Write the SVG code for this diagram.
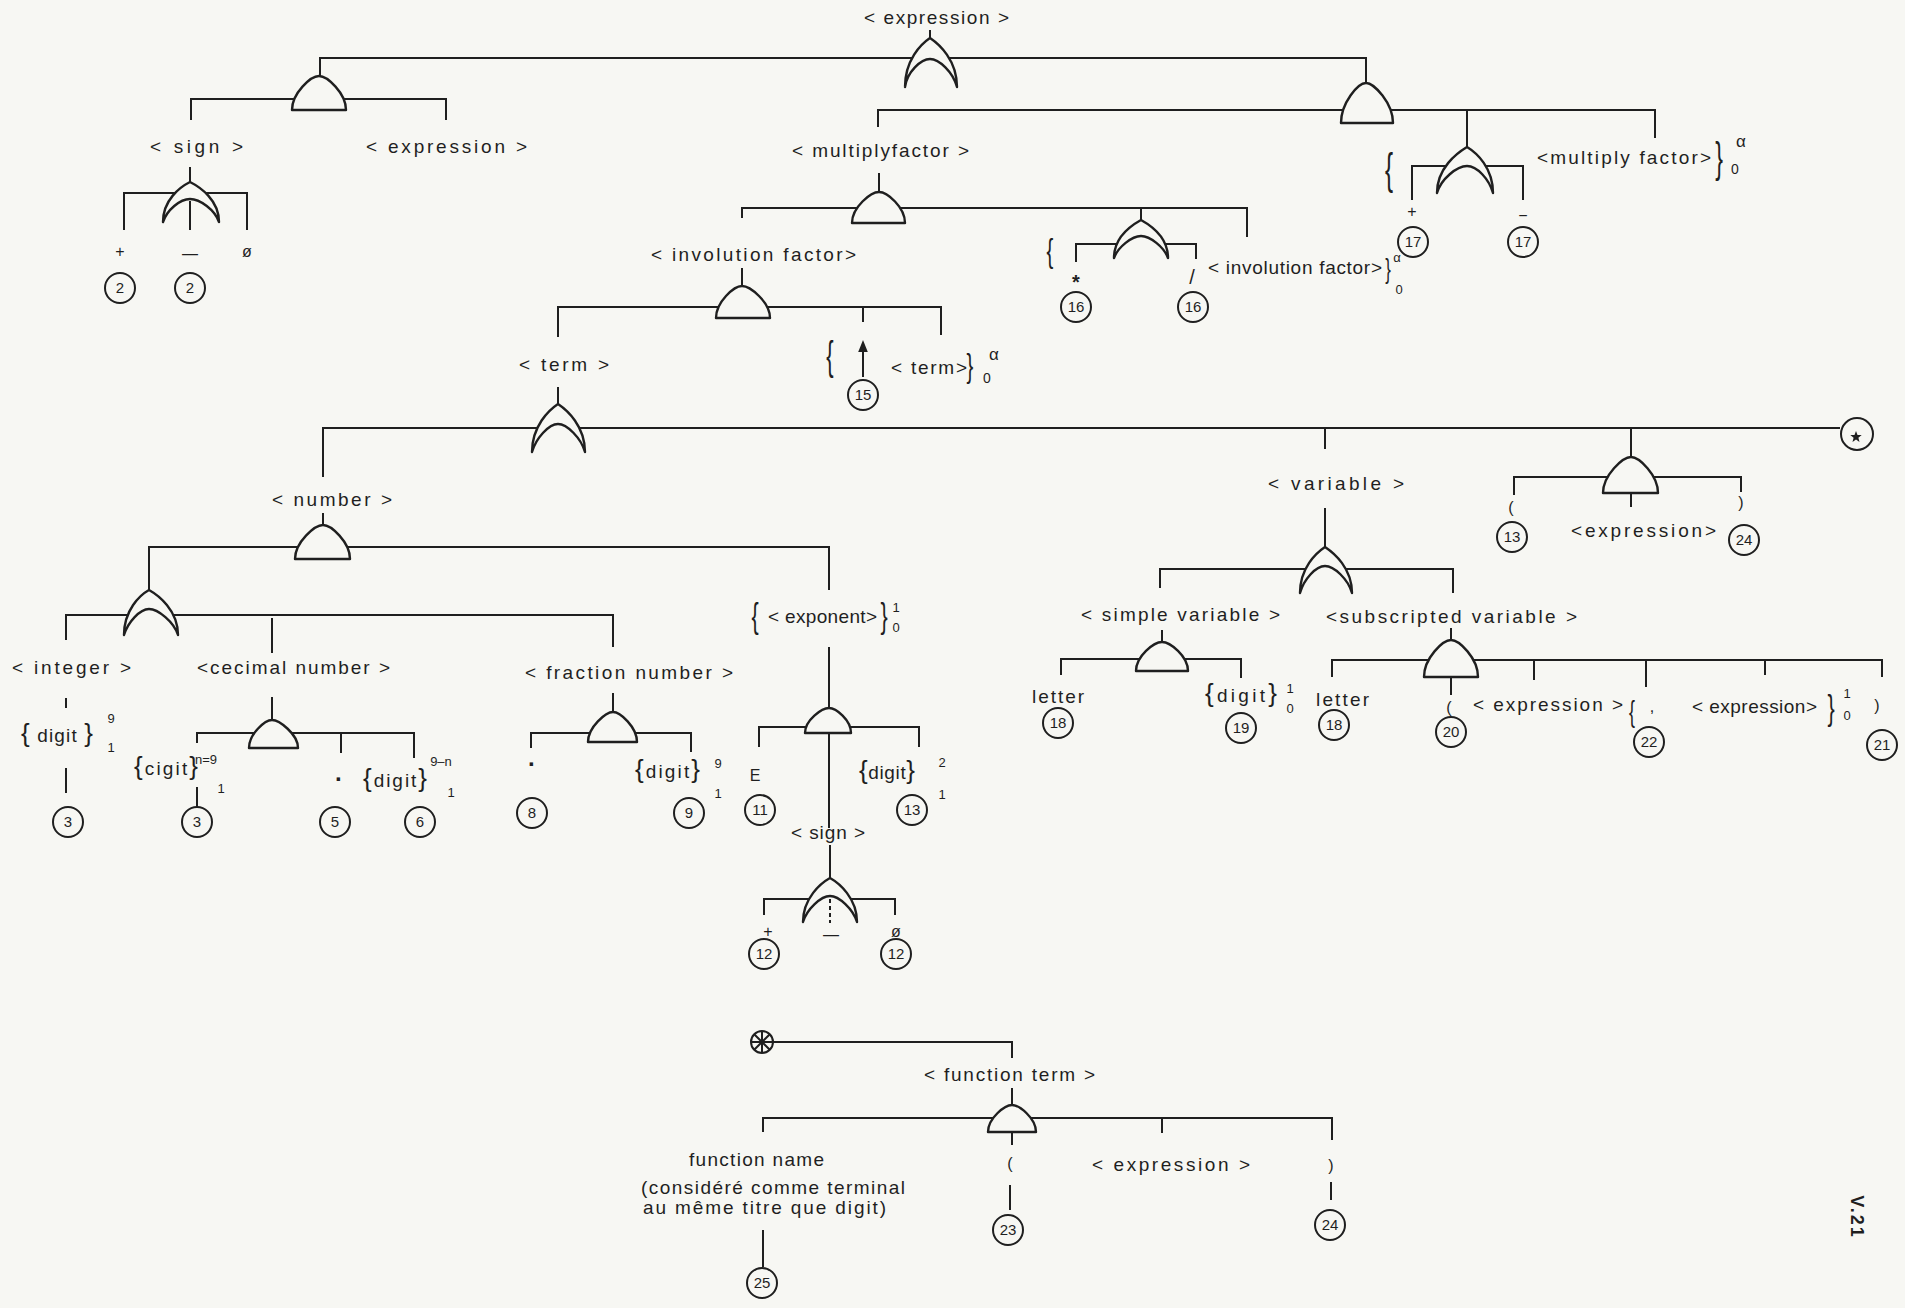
<svg xmlns="http://www.w3.org/2000/svg" width="1905" height="1308" viewBox="0 0 1905 1308">
<style>
.ln{stroke:#1f1f1f;stroke-width:2;fill:none}
.g{stroke:#1f1f1f;stroke-width:2.4;fill:#f7f7f3;stroke-linejoin:round}
.env{fill:#f7f7f3;stroke:none}
.c{stroke:#1f1f1f;stroke-width:2;fill:none}
.t{font-family:"Liberation Sans",Arial,sans-serif;font-size:19px;fill:#1f1f1f}
.m{font-family:"Liberation Sans",Arial,sans-serif;font-size:16px;fill:#1f1f1f;text-anchor:middle}
.n{font-family:"Liberation Sans",Arial,sans-serif;font-size:15px;fill:#1f1f1f;text-anchor:middle}
.s{font-family:"Liberation Sans",Arial,sans-serif;font-size:13px;fill:#1f1f1f;text-anchor:middle}
.br{font-size:26px}
.b{font-family:"Liberation Sans",Arial,sans-serif;fill:#1f1f1f;text-anchor:middle}
</style>
<defs>
<marker id="ah" viewBox="0 0 10 10" refX="5" refY="5" markerWidth="6" markerHeight="6" orient="auto"><path d="M0,1 L10,5 L0,9 Z" fill="#1f1f1f"/></marker>
</defs>
<rect width="1905" height="1308" fill="#f7f7f3"/>

<g id="connectors" class="ln">
<path d="M930,30V38 M320,76V58H1366V83 M191,120V99H446V120 M190,167V182 M124,230V193H247V230
M878,127V110H1655V138 M1467,110V147 M1412,200V166H1523V200 M879,173V192
M742,218V208H1247V237 M1141,208V220 M1076,262V244H1196V259 M742,268V286
M558,337V307H941V335 M863,307V322 M558,387V404 M323,477V428H1840 M1325,428V449 M1631,428V457
M323,513V525 M149,590V547H829V590 M66,640V615H613V647 M272,618V653 M66,698V708 M66,768V793
M272,697V720 M197,743V733H414V758 M341,733V753 M197,787V807 M613,693V712 M531,748V733H691V752
M829,647V708 M759,747V727H919V747 M829,733V828 M830,845V878 M764,915V899H895V915
M1325,508V547 M1160,588V569H1453V593 M1162,630V642 M1061,675V659H1241V678
M1451,628V640 M1332,677V660H1882V677 M1534,660V680 M1646,660V687 M1765,660V675 M1451,677V695
M1514,495V477H1741V492 M1631,493V507
M773,1042H1012V1058 M1012,1088V1105 M763,1132V1118H1332V1140 M1162,1118V1133 M1012,1132V1145
M763,1230V1267 M1010,1185V1210 M1331,1182V1200"/>
<path d="M863,377V346" marker-end="url(#ah)"/>
</g>

<!-- OR gates -->
<g id="or-expression">
<path class="env" d="M905,87 C905,60 921,44 930,38 C939,44 957,60 957,87 Z"/>
<path class="g" d="M905,87 C905,60 921,44 930,38 C939,44 957,60 957,87 C953,72 939,59 930,59 C921,59 907,72 905,87 Z"/>
<text class="t" x="864" y="24" textLength="145">&lt; expression &gt;</text>
</g>
<g id="or-sign-top">
<path class="env" d="M163,222 C163,200 180,187 190,182 C200,187 219,200 219,222 Z"/>
<path class="g" d="M163,222 C163,200 180,187 190,182 C200,187 219,200 219,222 C215,210 200,199 190,199 C180,199 167,210 163,222 Z"/>
<path class="ln" d="M190,201V230"/>
</g>
<g id="or-muldiv">
<path class="env" d="M1114,258 C1114,237 1132,225 1141,220 C1150,225 1168,237 1168,258 Z"/>
<path class="g" d="M1114,258 C1114,237 1132,225 1141,220 C1150,225 1168,237 1168,258 C1164,247 1150,236 1141,236 C1132,236 1118,247 1114,258 Z"/>
</g>
<g id="or-addsub">
<path class="env" d="M1437,193 C1437,168 1457,153 1467,147 C1477,153 1493,168 1493,193 Z"/>
<path class="g" d="M1437,193 C1437,168 1457,153 1467,147 C1477,153 1493,168 1493,193 C1489,179 1477,166 1467,166 C1457,166 1441,179 1437,193 Z"/>
</g>
<g id="or-term">
<path class="env" d="M532,452 C532,426 549,410 558,404 C567,410 585,426 585,452 Z"/>
<path class="g" d="M532,452 C532,426 549,410 558,404 C567,410 585,426 585,452 C581,438 567,424 558,424 C549,424 536,438 532,452 Z"/>
</g>
<g id="or-number">
<path class="env" d="M124,635 C124,610 140,595 149,590 C158,595 178,610 178,635 Z"/>
<path class="g" d="M124,635 C124,610 140,595 149,590 C158,595 178,610 178,635 C174,622 158,609 149,609 C140,609 128,622 124,635 Z"/>
</g>
<g id="or-variable">
<path class="env" d="M1300,593 C1300,568 1316,553 1325,547 C1334,553 1352,568 1352,593 Z"/>
<path class="g" d="M1300,593 C1300,568 1316,553 1325,547 C1334,553 1352,568 1352,593 C1348,579 1334,566 1325,566 C1316,566 1304,579 1300,593 Z"/>
</g>
<g id="or-sign-exp">
<path class="env" d="M803,922 C803,898 821,883 830,878 C839,883 857,898 857,922 Z"/>
<path class="g" d="M803,922 C803,898 821,883 830,878 C839,883 857,898 857,922 C853,909 839,896 830,896 C821,896 807,909 803,922 Z"/>
<path class="ln" d="M830,899V923" stroke-dasharray="4 3"/>
</g>

<!-- AND gates -->
<g id="and-signed"><path class="g" d="M292,110 C292,93 311,76 319,76 C327,76 346,93 346,110 Z"/></g>
<g id="and-addsub"><path class="g" d="M1341,123 C1341,103 1358,83 1366,83 C1374,83 1393,103 1393,123 Z"/></g>
<g id="and-multiplyfactor"><path class="g" d="M852,223 C852,207 871,192 879,192 C887,192 905,207 905,223 Z"/></g>
<g id="and-involution"><path class="g" d="M716,318 C716,302 734,286 742,286 C750,286 770,302 770,318 Z"/></g>
<g id="and-number"><path class="g" d="M295,559 C295,542 315,525 323,525 C331,525 350,542 350,559 Z"/></g>
<g id="and-decimal"><path class="g" d="M249,748 C249,734 265,720 272,720 C279,720 298,734 298,748 Z"/></g>
<g id="and-fraction"><path class="g" d="M588,742 C588,727 606,712 613,712 C620,712 637,727 637,742 Z"/></g>
<g id="and-exponent"><path class="g" d="M805,733 C805,720 822,708 829,708 C836,708 851,720 851,733 Z"/></g>
<g id="and-paren"><path class="g" d="M1603,493 C1603,475 1623,457 1631,457 C1639,457 1658,475 1658,493 Z"/></g>
<g id="and-simplevar"><path class="g" d="M1136,671 C1136,656 1154,642 1162,642 C1170,642 1188,656 1188,671 Z"/></g>
<g id="and-subscripted"><path class="g" d="M1424,677 C1424,658 1443,640 1451,640 C1459,640 1478,658 1478,677 Z"/></g>
<g id="and-function"><path class="g" d="M988,1132 C988,1118 1005,1105 1012,1105 C1019,1105 1036,1118 1036,1132 Z"/></g>

<!-- connector marks -->
<g id="mark-star">
<circle class="c" cx="1857" cy="434" r="16" stroke-width="2.5"/>
<polygon points="1856,431 1857.5,435 1861.7,435.1 1858.4,437.8 1859.5,441.9 1856,439.5 1852.5,441.9 1853.6,437.8 1850.3,435.1 1854.5,435" fill="#1f1f1f"/>
</g>
<g id="mark-wheel">
<circle class="c" cx="762" cy="1042" r="11"/>
<path class="ln" stroke-width="1.4" d="M762,1031V1053 M751,1042H773 M754.2,1034.2L769.8,1049.8 M769.8,1034.2L754.2,1049.8"/>
</g>

<!-- labels -->
<g id="lbl-sign-top"><text class="t" x="150" y="153" textLength="93">&lt; sign &gt;</text></g>
<g id="lbl-expression-left"><text class="t" x="366" y="153" textLength="161">&lt; expression &gt;</text></g>
<g id="lbl-multiplyfactor"><text class="t" x="792" y="157" textLength="177">&lt; multiplyfactor &gt;</text></g>
<g id="lbl-involution"><text class="t" x="651" y="261" textLength="205">&lt; involution factor&gt;</text></g>
<g id="lbl-involution-rep">
<text class="b" transform="translate(1050,262) scale(0.6,1)" font-size="34">{</text>
<text class="b" x="1076" y="289" font-size="20" font-weight="bold">*</text>
<text class="b" x="1192" y="284" font-size="20">/</text>
<text class="t" x="1208" y="274" textLength="174">&lt; involution factor&gt;</text>
<text class="b" transform="translate(1388,278) scale(0.6,1)" font-size="28">}</text>
<text class="s" x="1397" y="262">α</text>
<text class="s" x="1399" y="294">0</text>
</g>
<g id="lbl-multiply-rep">
<text class="b" transform="translate(1389,184) scale(0.55,1)" font-size="44">{</text>
<text class="m" x="1412" y="217">+</text>
<text class="m" x="1523" y="221">−</text>
<text class="t" x="1537" y="164" textLength="174">&lt;multiply factor&gt;</text>
<text class="b" transform="translate(1719,172) scale(0.55,1)" font-size="42">}</text>
<text class="b" x="1741" y="147" font-size="17">α</text>
<text class="b" x="1735" y="174" font-size="14">0</text>
</g>
<g id="lbl-term"><text class="t" x="519" y="371" textLength="90">&lt; term &gt;</text></g>
<g id="lbl-term-rep">
<text class="b" transform="translate(830,370) scale(0.55,1)" font-size="40">{</text>
<text class="t" x="891" y="374" textLength="76">&lt; term&gt;</text>
<text class="b" transform="translate(970,377) scale(0.6,1)" font-size="34">}</text>
<text class="b" x="994" y="360" font-size="17">α</text>
<text class="b" x="987" y="383" font-size="14">0</text>
</g>
<g id="lbl-signs-top">
<text class="m" x="120" y="257">+</text>
<text class="m" x="190" y="259">—</text>
<text class="m" x="247" y="257">ø</text>
</g>
<g id="lbl-number"><text class="t" x="272" y="506" textLength="120">&lt; number &gt;</text></g>
<g id="lbl-integer">
<text class="t" x="12" y="674" textLength="119">&lt; integer &gt;</text>
<text class="t" x="21" y="742" textLength="72"><tspan class="br">{</tspan> digit <tspan class="br">}</tspan></text>
<text class="s" x="111" y="723">9</text><text class="s" x="111" y="752">1</text>
</g>
<g id="lbl-decimal">
<text class="t" x="197" y="674" textLength="193">&lt;cecimal number &gt;</text>
<text class="t" x="134" y="775" textLength="64"><tspan class="br">{</tspan>cigit<tspan class="br">}</tspan></text>
<text class="s" x="206" y="764" text-anchor="start">n=9</text><text class="s" x="221" y="793">1</text>
<text class="b" x="339" y="787" font-size="24" font-weight="bold">·</text>
<text class="t" x="363" y="787" textLength="64"><tspan class="br">{</tspan>digit<tspan class="br">}</tspan></text>
<text class="s" x="441" y="766" text-anchor="start">9–n</text><text class="s" x="451" y="797">1</text>
</g>
<g id="lbl-fraction">
<text class="t" x="525" y="679" textLength="208">&lt; fraction number &gt;</text>
<text class="b" x="532" y="772" font-size="24" font-weight="bold">·</text>
<text class="t" x="635" y="778" textLength="65"><tspan class="br">{</tspan>digit<tspan class="br">}</tspan></text>
<text class="s" x="718" y="768">9</text><text class="s" x="718" y="798">1</text>
</g>
<g id="lbl-exponent">
<text class="b" transform="translate(755,628) scale(0.6,1)" font-size="36">{</text>
<text class="t" x="768" y="623" textLength="109">&lt; exponent&gt;</text>
<text class="b" transform="translate(884,628) scale(0.6,1)" font-size="36">}</text>
<text class="s" x="896" y="612">1</text><text class="s" x="896" y="632">0</text>
<text class="m" x="755" y="781" font-size="17">E</text>
<text class="t" x="859" y="779" textLength="56"><tspan class="br">{</tspan>digit<tspan class="br">}</tspan></text>
<text class="s" x="942" y="767">2</text><text class="s" x="942" y="799">1</text>
</g>
<g id="lbl-sign-exp">
<text class="t" x="791" y="839" textLength="74">&lt; sign &gt;</text>
<text class="m" x="768" y="937">+</text>
<text class="m" x="831" y="940">—</text>
<text class="m" x="896" y="937">ø</text>
</g>
<g id="lbl-variable"><text class="t" x="1268" y="490" textLength="136">&lt; variable &gt;</text></g>
<g id="lbl-simplevar">
<text class="t" x="1081" y="621" textLength="199">&lt; simple variable &gt;</text>
<text class="t" x="1032" y="703" textLength="52">letter</text>
<text class="t" x="1205" y="702" textLength="72"><tspan class="br">{</tspan>digit<tspan class="br">}</tspan></text>
<text class="s" x="1290" y="693">1</text><text class="s" x="1290" y="713">0</text>
</g>
<g id="lbl-subscripted">
<text class="t" x="1326" y="623" textLength="251">&lt;subscripted variable &gt;</text>
<text class="t" x="1316" y="706" textLength="53">letter</text>
<text class="m" x="1449" y="713" font-size="18">(</text>
<text class="t" x="1473" y="711" textLength="150">&lt; expression &gt;</text>
<text class="b" transform="translate(1632,722) scale(0.6,1)" font-size="30">{</text>
<text class="m" x="1652" y="712" font-size="18">,</text>
<text class="t" x="1692" y="713" textLength="125">&lt; expression&gt;</text>
<text class="b" transform="translate(1831,720) scale(0.6,1)" font-size="36">}</text>
<text class="s" x="1847" y="698">1</text><text class="s" x="1847" y="720">0</text>
<text class="m" x="1877" y="711" font-size="18">)</text>
</g>
<g id="lbl-paren">
<text class="m" x="1511" y="513" font-size="18">(</text>
<text class="t" x="1571" y="537" textLength="145">&lt;expression&gt;</text>
<text class="m" x="1741" y="508" font-size="18">)</text>
</g>
<g id="lbl-function">
<text class="t" x="924" y="1081" textLength="171">&lt; function term &gt;</text>
<text class="t" x="689" y="1166" textLength="135">function name</text>
<text class="t" x="641" y="1194" textLength="264">(considéré comme terminal</text>
<text class="t" x="643" y="1214" textLength="243">au même titre que digit)</text>
<text class="m" x="1010" y="1169" font-size="18">(</text>
<text class="t" x="1092" y="1171" textLength="158">&lt; expression &gt;</text>
<text class="m" x="1331" y="1171" font-size="18">)</text>
</g>

<!-- numbered terminals -->
<g id="c2a"><circle class="c" cx="120" cy="288" r="15"/><text class="n" x="120" y="293">2</text></g>
<g id="c2b"><circle class="c" cx="190" cy="288" r="15"/><text class="n" x="190" y="293">2</text></g>
<g id="c16a"><circle class="c" cx="1076" cy="307" r="15"/><text class="n" x="1076" y="312">16</text></g>
<g id="c16b"><circle class="c" cx="1193" cy="307" r="15"/><text class="n" x="1193" y="312">16</text></g>
<g id="c17a"><circle class="c" cx="1413" cy="242" r="15"/><text class="n" x="1413" y="247">17</text></g>
<g id="c17b"><circle class="c" cx="1523" cy="242" r="15"/><text class="n" x="1523" y="247">17</text></g>
<g id="c15"><circle class="c" cx="863" cy="395" r="15"/><text class="n" x="863" y="400">15</text></g>
<g id="c3a"><circle class="c" cx="68" cy="822" r="15"/><text class="n" x="68" y="827">3</text></g>
<g id="c3b"><circle class="c" cx="197" cy="822" r="15"/><text class="n" x="197" y="827">3</text></g>
<g id="c5"><circle class="c" cx="335" cy="822" r="15"/><text class="n" x="335" y="827">5</text></g>
<g id="c6"><circle class="c" cx="420" cy="822" r="15"/><text class="n" x="420" y="827">6</text></g>
<g id="c8"><circle class="c" cx="532" cy="813" r="15"/><text class="n" x="532" y="818">8</text></g>
<g id="c9"><circle class="c" cx="689" cy="813" r="15"/><text class="n" x="689" y="818">9</text></g>
<g id="c11"><circle class="c" cx="760" cy="810" r="15"/><text class="n" x="760" y="815">11</text></g>
<g id="c13a"><circle class="c" cx="912" cy="810" r="15"/><text class="n" x="912" y="815">13</text></g>
<g id="c12a"><circle class="c" cx="764" cy="954" r="15"/><text class="n" x="764" y="959">12</text></g>
<g id="c12b"><circle class="c" cx="896" cy="954" r="15"/><text class="n" x="896" y="959">12</text></g>
<g id="c13b"><circle class="c" cx="1512" cy="537" r="15"/><text class="n" x="1512" y="542">13</text></g>
<g id="c24a"><circle class="c" cx="1744" cy="540" r="15"/><text class="n" x="1744" y="545">24</text></g>
<g id="c18a"><circle class="c" cx="1058" cy="723" r="15"/><text class="n" x="1058" y="728">18</text></g>
<g id="c19"><circle class="c" cx="1241" cy="728" r="15"/><text class="n" x="1241" y="733">19</text></g>
<g id="c18b"><circle class="c" cx="1334" cy="725" r="15"/><text class="n" x="1334" y="730">18</text></g>
<g id="c20"><circle class="c" cx="1451" cy="732" r="15"/><text class="n" x="1451" y="737">20</text></g>
<g id="c22"><circle class="c" cx="1649" cy="742" r="15"/><text class="n" x="1649" y="747">22</text></g>
<g id="c21"><circle class="c" cx="1882" cy="745" r="15"/><text class="n" x="1882" y="750">21</text></g>
<g id="c25"><circle class="c" cx="762" cy="1283" r="15"/><text class="n" x="762" y="1288">25</text></g>
<g id="c23"><circle class="c" cx="1008" cy="1230" r="15"/><text class="n" x="1008" y="1235">23</text></g>
<g id="c24b"><circle class="c" cx="1330" cy="1225" r="15"/><text class="n" x="1330" y="1230">24</text></g>

<g id="page-number"><text class="b" transform="translate(1857,1217) rotate(90)" y="6" font-size="18" font-weight="bold" letter-spacing="2">V.21</text></g>
</svg>
